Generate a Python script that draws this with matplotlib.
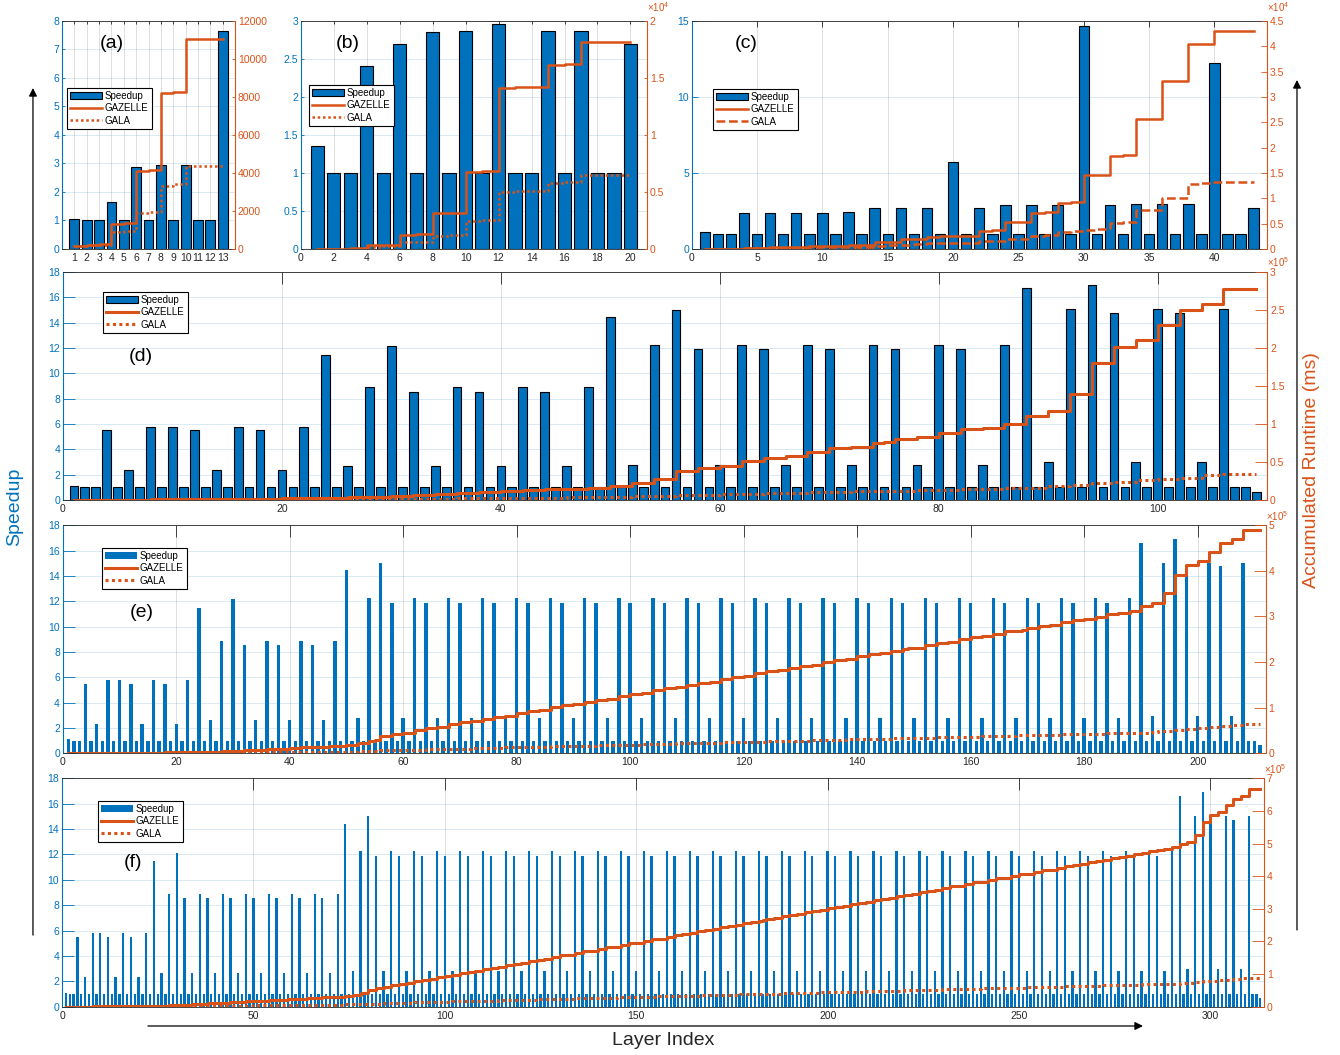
import numpy as np
import matplotlib
matplotlib.use('Agg')
import matplotlib.pyplot as plt
from matplotlib.patches import FancyArrowPatch
from matplotlib.ticker import FuncFormatter

plt.rcParams['font.family'] = ['Liberation Sans', 'DejaVu Sans']
plt.rcParams['mathtext.fontset'] = 'custom'
plt.rcParams['mathtext.rm'] = 'Liberation Sans'

BLUE = '#0072BD'
ORANGE = '#D95319'
DARK = '#262626'


def nums(s):
    return np.array(s.split(), dtype=float)


# (a) 13 layers, accumulated runtime read directly (ms)
spd_a = [1.04, 1.0, 1.0, 1.64, 1.0, 2.88, 1.0, 2.93, 1.0, 2.93, 1.0, 1.0, 7.64]
gaz_a_acc = [175, 230, 250, 1320, 1350, 4100, 4150, 8230, 8280, 11030, 11060, 11070, 11050]
gala_a_acc = [170, 200, 210, 910, 950, 1880, 1930, 3330, 3400, 4370, 4390, 4390, 4390]

# (b) 20 layers
spd_b = [1.36, 1.0, 1.0, 2.41, 1.0, 2.70, 1.0, 2.86, 1.0, 2.87,
         1.0, 2.96, 1.0, 1.0, 2.87, 1.0, 2.87, 1.0, 1.0, 2.70]
gaz_b_acc = [30, 35, 50, 320, 350, 1260, 1340, 3130, 3190, 6780,
             6840, 14150, 14200, 14200, 16140, 16200, 18130, 18130, 18130, 18130]
gala_b_acc = [22, 30, 40, 200, 290, 580, 640, 1170, 1230, 2490,
              2540, 5030, 5090, 5120, 5790, 5850, 6490, 6500, 6500, 6520]

# (c) 43 layers
spd_c = [1.1, 1.0, 1.0, 2.36, 1.0, 2.36, 1.0, 2.36, 1.0, 2.36, 1.0, 2.43, 1.0, 2.7, 1.0,
         2.7, 1.0, 2.7, 1.0, 5.74, 1.0, 2.7, 1.0, 2.87, 1.0, 2.87, 1.0, 2.87, 1.0, 14.7,
         1.0, 2.87, 1.0, 2.96, 1.0, 2.96, 1.0, 2.96, 1.0, 12.24, 1.0, 1.0, 2.7]
gaz_c_acc = [30, 60, 80, 150, 200, 300, 350, 450, 500, 600, 650, 800, 850, 1300, 1350,
             1900, 1950, 2450, 2500, 2600, 2650, 3600, 3700, 5300, 5400, 7200, 7300, 9100,
             9200, 14600, 14700, 18400, 18500, 25600, 25700, 33100, 33200, 40400, 40500,
             43000, 43100, 43100, 43100]
gala_c_acc = [30, 50, 70, 100, 140, 180, 220, 260, 300, 340, 380, 440, 480, 650, 700,
              880, 920, 1100, 1140, 1160, 1200, 1500, 1550, 2000, 2050, 2650, 2700, 3450,
              3500, 3800, 3850, 5200, 5250, 7600, 7650, 10100, 10150, 12900, 12950,
              13200, 13200, 13200, 13200]

# (d) 109 layers: speedup, per-layer runtime (ms)
spd_d = nums("""
1.1 1 1 5.5 1 2.35 1 5.8 1 5.8 1 5.5 1 2.35 1 5.8 1 5.5 1 2.35 1 5.8 1
11.45 1 2.65 1 8.9 1 12.15 1 8.55 1 2.65 1
8.9 1 8.55 1 2.65 1 8.9 1 8.55 1 2.65 1
8.9 1
14.45 1 2.8 1 12.25 1 15 1 11.9 1 2.8 1
12.25 1 11.9 1 2.8 1 12.25 1 11.9 1 2.8 1
12.25 1 11.9 1 2.8 1 12.25 1 11.9 1 2.8 1
12.25 1
16.7 1 2.98 1 15.1 1 17 1 14.8 1 2.98 1
15.1 1 14.8 1 2.98 1
15.1 1 1 0.66
""")
gaz_d = nums("""
100 20 20 200 20 150 20 200 20 200 20 200 20 150 20 200 20 200 20 150 20 200 20
600 30 500 30 700 30 1500 30 1000 30 1000 30
1500 30 1000 30 1000 30 1500 30 1000 30 1000 30
1500 30
2500 50 3000 50 6000 50 9500 50 4500 50 3000 50
5500 50 4700 50 2100 50 5500 50 4700 50 2100 50
5500 50 4700 50 2100 50 5500 50 4700 50 2100 50
5500 50
10100 50 6600 50 22000 50 40400 50 21000 50 9000 50
19800 50 19800 50 8800 50
19600 50 50 20
""")
gala_d = nums("""
90 20 20 36 20 64 20 34 20 34 20 36 20 64 20 34 20 36 20 64 20 34 20
52 30 189 30 79 30 123 30 117 30 377 30
169 30 117 30 377 30 169 30 117 30 377 30
169 30
173 50 1071 50 490 50 633 50 378 50 1071 50
449 50 395 50 750 50 449 50 395 50 750 50
449 50 395 50 750 50 449 50 395 50 750 50
449 50
605 50 2215 50 1457 50 2376 50 1419 50 3020 50
1311 50 1338 50 2953 50
1298 50 50 30
""")

# (e) 211 layers
spd_e = nums("""
1.1 1 1 5.5 1 2.35 1 5.8 1 5.8 1 5.5 1 2.35 1 5.8 1 5.5 1 2.35 1 5.8 1
11.45 1 2.65 1 8.9 1 12.15 1 8.55 1 2.65 1
8.9 1 8.55 1 2.65 1 8.9 1 8.55 1 2.65 1
8.9 1
14.45 1 2.8 1 12.25 1 15 1 11.9 1 2.8 1
12.25 1 11.9 1 2.8 1 12.25 1 11.9 1 2.8 1 12.25 1 11.9 1 2.8 1
12.25 1 11.9 1 2.8 1 12.25 1 11.9 1 2.8 1 12.25 1 11.9 1 2.8 1
12.25 1 11.9 1 2.8 1 12.25 1 11.9 1 2.8 1 12.25 1 11.9 1 2.8 1
12.25 1 11.9 1 2.8 1 12.25 1 11.9 1 2.8 1 12.25 1 11.9 1 2.8 1
12.25 1 11.9 1 2.8 1 12.25 1 11.9 1 2.8 1 12.25 1 11.9 1 2.8 1
12.25 1 11.9 1 2.8 1 12.25 1 11.9 1 2.8 1 12.25 1 11.9 1 2.8 1
12.25 1 11.9 1 2.8 1 12.25 1 11.9 1 2.8 1 12.25 1 11.9 1 2.8 1
12.25 1
16.6 1 2.95 1 15.05 1 16.9 1 14.75 1 2.95 1
15.05 1 14.75 1 2.95 1
15.05 1 1 0.66
""")
gaz_e = nums("""
100 20 20 200 20 150 20 200 20 200 20 200 20 150 20 200 20 200 20 150 20 200 20
600 30 500 30 700 30 1500 30 1000 30 1000 30
1500 30 1000 30 1000 30 1500 30 1000 30 1000 30
1500 30
2500 50 3000 50 6000 50 9500 50 4500 50 3000 50
5500 50 4700 50 2100 50 5500 50 4700 50 2100 50 5500 50 4700 50 2100 50
5500 50 4700 50 2100 50 5500 50 4700 50 2100 50 5500 50 4700 50 2100 50
5500 50 4700 50 2100 50 5500 50 4700 50 2100 50 5500 50 4700 50 2100 50
5500 50 4700 50 2100 50 5500 50 4700 50 2100 50 5500 50 4700 50 2100 50
5500 50 4700 50 2100 50 5500 50 4700 50 2100 50 5500 50 4700 50 2100 50
5500 50 4700 50 2100 50 5500 50 4700 50 2100 50 5500 50 4700 50 2100 50
5500 50 4700 50 2100 50 5500 50 4700 50 2100 50 5500 50 4700 50 2100 50
5500 50
10100 50 6600 50 22000 50 40400 50 21000 50 9000 50
19800 50 19800 50 8800 50
19600 50 50 20
""")
gala_e = nums("""
90 20 20 36 20 64 20 34 20 34 20 36 20 64 20 34 20 36 20 64 20 34 20
52 30 189 30 79 30 123 30 117 30 377 30
169 30 117 30 377 30 169 30 117 30 377 30
169 30
173 50 1071 50 490 50 633 50 378 50 1071 50
449 50 395 50 750 50 449 50 395 50 750 50 449 50 395 50 750 50
449 50 395 50 750 50 449 50 395 50 750 50 449 50 395 50 750 50
449 50 395 50 750 50 449 50 395 50 750 50 449 50 395 50 750 50
449 50 395 50 750 50 449 50 395 50 750 50 449 50 395 50 750 50
449 50 395 50 750 50 449 50 395 50 750 50 449 50 395 50 750 50
449 50 395 50 750 50 449 50 395 50 750 50 449 50 395 50 750 50
449 50 395 50 750 50 449 50 395 50 750 50 449 50 395 50 750 50
449 50
605 50 2215 50 1457 50 2376 50 1419 50 3020 50
1311 50 1338 50 2953 50
1298 50 50 30
""")

# (f) 313 layers
spd_f = nums("""
1.1 1 1 5.5 1 2.35 1 5.8 1 5.8 1 5.5 1 2.35 1 5.8 1 5.5 1 2.35 1 5.8 1
11.45 1 2.65 1 8.9 1 12.15 1 8.55 1 2.65 1
8.9 1 8.55 1 2.65 1 8.9 1 8.55 1 2.65 1 8.9 1 8.55 1 2.65 1
8.9 1 8.55 1 2.65 1 8.9 1 8.55 1 2.65 1 8.9 1 8.55 1 2.65 1
8.9 1
14.4 1 2.8 1 12.25 1 15 1 11.9 1 2.8 1
12.25 1 11.9 1 2.8 1 12.25 1 11.9 1 2.8 1 12.25 1 11.9 1 2.8 1
12.25 1 11.9 1 2.8 1 12.25 1 11.9 1 2.8 1 12.25 1 11.9 1 2.8 1
12.25 1 11.9 1 2.8 1 12.25 1 11.9 1 2.8 1 12.25 1 11.9 1 2.8 1
12.25 1 11.9 1 2.8 1 12.25 1 11.9 1 2.8 1 12.25 1 11.9 1 2.8 1
12.25 1 11.9 1 2.8 1 12.25 1 11.9 1 2.8 1 12.25 1 11.9 1 2.8 1
12.25 1 11.9 1 2.8 1 12.25 1 11.9 1 2.8 1 12.25 1 11.9 1 2.8 1
12.25 1 11.9 1 2.8 1 12.25 1 11.9 1 2.8 1 12.25 1 11.9 1 2.8 1
12.25 1 11.9 1 2.8 1 12.25 1 11.9 1 2.8 1 12.25 1 11.9 1 2.8 1
12.25 1 11.9 1 2.8 1 12.25 1 11.9 1 2.8 1 12.25 1 11.9 1 2.8 1
12.25 1 11.9 1 2.8 1 12.25 1 11.9 1 2.8 1 12.25 1 11.9 1 2.8 1
12.25 1 11.9 1 2.8 1 12.25 1 11.9 1 2.8 1 12.25 1 11.9 1 2.8 1
12.25 1 11.9 1 2.8 1
12.25 1
16.6 1 2.95 1 15.05 1 16.9 1 14.75 1 2.95 1
15.05 1 14.75 1 2.95 1
15.05 1 1 0.66
""")
gaz_f = nums("""
100 20 20 200 20 150 20 200 20 200 20 200 20 150 20 200 20 200 20 150 20 200 20
600 30 500 30 700 30 1500 30 1000 30 1000 30
1500 30 1000 30 1000 30 1500 30 1000 30 1000 30 1500 30 1000 30 1000 30
1500 30 1000 30 1000 30 1500 30 1000 30 1000 30 1500 30 1000 30 1000 30
1500 30
2500 50 3000 50 6000 50 9500 50 4500 50 3000 50
5500 50 4700 50 2100 50 5500 50 4700 50 2100 50 5500 50 4700 50 2100 50
5500 50 4700 50 2100 50 5500 50 4700 50 2100 50 5500 50 4700 50 2100 50
5500 50 4700 50 2100 50 5500 50 4700 50 2100 50 5500 50 4700 50 2100 50
5500 50 4700 50 2100 50 5500 50 4700 50 2100 50 5500 50 4700 50 2100 50
5500 50 4700 50 2100 50 5500 50 4700 50 2100 50 5500 50 4700 50 2100 50
5500 50 4700 50 2100 50 5500 50 4700 50 2100 50 5500 50 4700 50 2100 50
5500 50 4700 50 2100 50 5500 50 4700 50 2100 50 5500 50 4700 50 2100 50
5500 50 4700 50 2100 50 5500 50 4700 50 2100 50 5500 50 4700 50 2100 50
5500 50 4700 50 2100 50 5500 50 4700 50 2100 50 5500 50 4700 50 2100 50
5500 50 4700 50 2100 50 5500 50 4700 50 2100 50 5500 50 4700 50 2100 50
5500 50 4700 50 2100 50 5500 50 4700 50 2100 50 5500 50 4700 50 2100 50
5500 50 4700 50 2100 50
5500 50
10100 50 6600 50 22000 50 40400 50 21000 50 9000 50
19800 50 19800 50 8800 50
19600 50 50 20
""")
gala_f = nums("""
90 20 20 36 20 64 20 34 20 34 20 36 20 64 20 34 20 36 20 64 20 34 20
52 30 189 30 79 30 123 30 117 30 377 30
169 30 117 30 377 30 169 30 117 30 377 30 169 30 117 30 377 30
169 30 117 30 377 30 169 30 117 30 377 30 169 30 117 30 377 30
169 30
173 50 1071 50 490 50 633 50 378 50 1071 50
449 50 395 50 750 50 449 50 395 50 750 50 449 50 395 50 750 50
449 50 395 50 750 50 449 50 395 50 750 50 449 50 395 50 750 50
449 50 395 50 750 50 449 50 395 50 750 50 449 50 395 50 750 50
449 50 395 50 750 50 449 50 395 50 750 50 449 50 395 50 750 50
449 50 395 50 750 50 449 50 395 50 750 50 449 50 395 50 750 50
449 50 395 50 750 50 449 50 395 50 750 50 449 50 395 50 750 50
449 50 395 50 750 50 449 50 395 50 750 50 449 50 395 50 750 50
449 50 395 50 750 50 449 50 395 50 750 50 449 50 395 50 750 50
449 50 395 50 750 50 449 50 395 50 750 50 449 50 395 50 750 50
449 50 395 50 750 50 449 50 395 50 750 50 449 50 395 50 750 50
449 50 395 50 750 50 449 50 395 50 750 50 449 50 395 50 750 50
449 50 395 50 750 50
449 50
605 50 2215 50 1457 50 2376 50 1419 50 3020 50
1311 50 1338 50 2953 50
1298 50 50 30
""")

DOT = (0, (1, 1.1))
DASH = (0, (3.5, 1.5))

fig = plt.figure(figsize=(13.4, 10.55), dpi=100)


def panel(rect, spd, gaz, gala, xticks, ymax, yticks, rticks, rscale, exp, exp_y,
          tick_len, bar_edge, lw, gala_ls, label, label_xy, leg_xy):
    ax = fig.add_axes(rect)
    x = np.arange(1, len(spd) + 1)
    if bar_edge:
        bars = ax.bar(x, spd, width=0.8, color=BLUE, edgecolor='black', linewidth=0.8)
    else:
        bars = ax.bar(x, spd, width=0.6, color=BLUE, edgecolor='none', linewidth=0)
    ax.set_xlim(0, len(spd) + 1)
    ax.set_ylim(0, ymax)
    ax.set_xticks(xticks)
    ax.set_yticks(yticks)
    ax.xaxis.set_major_formatter(FuncFormatter(lambda v, p: '%g' % v))
    ax.yaxis.set_major_formatter(FuncFormatter(lambda v, p: '%g' % v))
    ax.set_axisbelow(True)
    ax.grid(axis='x', color=DARK, alpha=0.15, lw=0.7)
    ax.grid(axis='y', color=BLUE, alpha=0.15, lw=0.7)
    ax.tick_params(axis='x', direction='in', top=True, bottom=True, length=tick_len,
                   width=0.6, color=DARK, labelcolor=DARK, labelsize=7.5, pad=3)
    ax.tick_params(axis='y', direction='in', length=tick_len, width=0.6,
                   color=BLUE, labelcolor=BLUE, labelsize=7.5, pad=2)
    ax.spines['left'].set_color(BLUE)
    ax.spines['right'].set_visible(False)
    for s in ['top', 'bottom']:
        ax.spines[s].set_color(DARK)
        ax.spines[s].set_linewidth(0.6)

    ax2 = ax.twinx()
    l1, = ax2.step(x, gaz, where='post', color=ORANGE, lw=lw)
    l2, = ax2.step(x, gala, where='post', color=ORANGE, lw=lw, linestyle=gala_ls)
    ax2.set_ylim(0, rticks[-1])
    ax2.set_yticks(rticks)
    ax2.yaxis.set_major_formatter(FuncFormatter(lambda v, p: '%g' % (v / rscale)))
    ax2.tick_params(axis='y', direction='in', length=tick_len, width=0.6,
                    color=ORANGE, labelcolor=ORANGE, labelsize=7.5, pad=2)
    for s in ['left', 'top', 'bottom']:
        ax2.spines[s].set_visible(False)
    ax2.spines['right'].set_color(ORANGE)
    if exp:
        ax2.text(1.0, exp_y, r'$\times10^{%d}$' % exp, transform=ax2.transAxes,
                 ha='left', va='bottom', color=ORANGE, fontsize=7)

    leg = ax2.legend([bars, l1, l2], ['Speedup', 'GAZELLE', 'GALA'], loc='upper left',
                     bbox_to_anchor=leg_xy, bbox_transform=fig.transFigure, fontsize=7,
                     fancybox=False, framealpha=1, edgecolor='black', handlelength=3.3,
                     handletextpad=0.3, borderpad=0.3, labelspacing=0.25, borderaxespad=0)
    leg.get_frame().set_linewidth(0.8)
    fig.text(label_xy[0], label_xy[1], label, ha='center', va='center', fontsize=14,
             color='black')


panel([0.0463, 0.764, 0.1291, 0.2161], spd_a, gaz_a_acc, gala_a_acc,
      list(range(1, 14)), 8, range(0, 9), np.arange(0, 12001, 2000), 1, 0, 1.03,
      2, True, 1.8, DOT, '(a)', (0.0834, 0.959), (0.0500, 0.9166))

panel([0.2244, 0.764, 0.2584, 0.2161], spd_b, gaz_b_acc, gala_b_acc,
      np.arange(0, 21, 2), 3, np.arange(0, 3.01, 0.5), np.arange(0, 20001, 5000), 1e4, 4, 1.03,
      2.5, True, 1.8, DOT, '(b)', (0.2597, 0.9592), (0.2306, 0.9194))

panel([0.5162, 0.764, 0.4291, 0.2161], spd_c, gaz_c_acc, gala_c_acc,
      np.arange(0, 41, 5), 15, np.arange(0, 16, 5), np.arange(0, 45001, 5000), 1e4, 4, 1.03,
      4, True, 1.8, DASH, '(c)', (0.5572, 0.9592), (0.5321, 0.9156))

panel([0.0470, 0.5261, 0.8987, 0.2161], spd_d, np.cumsum(gaz_d), np.cumsum(gala_d),
      np.arange(0, 101, 20), 18, np.arange(0, 19, 2), np.arange(0, 300001, 50000), 1e5, 5, 1.012,
      8.7, True, 2.2, DOT, '(d)', (0.105, 0.6619), (0.0769, 0.7232))

panel([0.0468, 0.2860, 0.8978, 0.2161], spd_e, np.cumsum(gaz_e), np.cumsum(gala_e),
      np.arange(0, 201, 20), 18, np.arange(0, 19, 2), np.arange(0, 500001, 100000), 1e5, 5, 1.012,
      8.7, False, 2.2, DOT, '(e)', (0.1057, 0.419), (0.0761, 0.4806))

panel([0.0463, 0.0458, 0.8970, 0.2164], spd_f, np.cumsum(gaz_f), np.cumsum(gala_f),
      np.arange(0, 301, 50), 18, np.arange(0, 19, 2), np.arange(0, 700001, 100000), 1e5, 5, 1.012,
      8.7, False, 2.2, DOT, '(f)', (0.0993, 0.182), (0.0731, 0.2408))

# shared labels and arrows
fig.text(0.0112, 0.5194, 'Speedup', rotation=90, ha='center', va='center',
         fontsize=14, color=BLUE)
fig.text(0.9791, 0.5545, 'Accumulated Runtime (ms)', rotation=90, ha='center',
         va='center', fontsize=14, color=ORANGE)
fig.text(0.4948, 0.0142, 'Layer Index', ha='center', va='center', fontsize=14, color=DARK)

for p0, p1 in [((0.0246, 0.1137), (0.0246, 0.9166)),
               ((0.9679, 0.1185), (0.9679, 0.9242)),
               ((0.1104, 0.0275), (0.853, 0.0275))]:
    fig.add_artist(FancyArrowPatch(p0, p1, transform=fig.transFigure, arrowstyle='-|>',
                                   mutation_scale=12, lw=0.9, color='black',
                                   shrinkA=0, shrinkB=0))

fig.savefig('out.png', dpi=100)
